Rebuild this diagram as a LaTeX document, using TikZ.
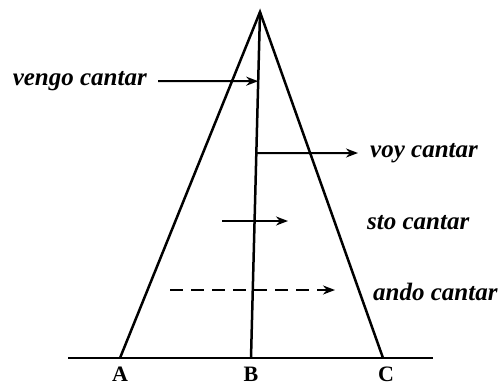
\documentclass[tikz,border=0pt]{standalone}
\usepackage{fontspec}
\setmainfont{Liberation Serif}
\usetikzlibrary{arrows.meta, positioning, calc}

\begin{document}
\begin{tikzpicture}[
    x=1pt, y=-1pt,
    every node/.style={font=\fontsize{25}{28}\selectfont\bfseries\itshape, inner sep=0pt},
    frame/.style={line width=2.5pt},
    arr/.style={-{Stealth[length=12pt, width=9pt]}, line width=2pt},
    pointlabel/.style={font=\fontsize{22}{24}\selectfont\bfseries, anchor=base}
]
    \useasboundingbox (0,0) rectangle (502,386);

    % triangle and base line
    \coordinate (apex) at (260,12);
    \coordinate (a) at (120,358);
    \coordinate (b) at (251,358);
    \coordinate (c) at (383,358);
    \coordinate (baseL) at (68,358);
    \coordinate (baseR) at (433,358);

    \draw[frame] (baseL) -- (baseR);
    \draw[frame] (a) -- (apex) -- (c);
    \draw[frame] (apex) -- (b);

    \node[pointlabel] (la) at (120,381) {A};
    \node[pointlabel] (lb) at (251,381) {B};
    \node[pointlabel] (lc) at (386,381) {C};

    % labels
    \node[anchor=base east] (vengo) at (147,85) {vengo cantar};
    \node[anchor=base west] (voy) at (370,157) {voy cantar};
    \node[anchor=base west] (sto) at (367,229) {sto cantar};
    \node[anchor=base west] (ando) at (373,300) {ando cantar};

    % arrow ends
    \coordinate (vengoTail) at (158,81);
    \coordinate (vengoTip) at ($(apex)!0.2!(b)$);
    \coordinate (voyTail) at ($(apex)!0.4075!(b)$);
    \coordinate (voyTip) at (358,153);
    \coordinate (stoTail) at (222,221);
    \coordinate (stoTip) at (288,221);
    \coordinate (andoTail) at (170,290);
    \coordinate (andoTip) at (335,290);

    \draw[arr] (vengoTail) -- (vengoTip);
    \draw[arr] (voyTail) -- (voyTip);
    \draw[arr] (stoTail) -- (stoTip);
    \draw[arr, dash pattern=on 13pt off 8pt] (andoTail) -- (andoTip);
\end{tikzpicture}
\end{document}
